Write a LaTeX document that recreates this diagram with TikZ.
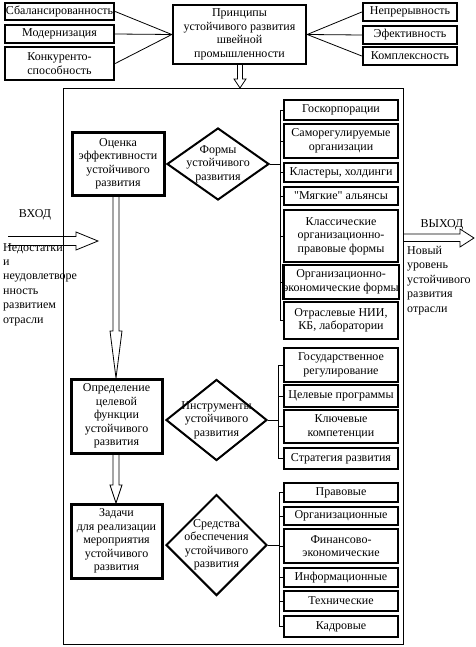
\documentclass[tikz,border=0pt]{standalone}
\usepackage{fontspec}
\setmainfont{Liberation Serif}
\usetikzlibrary{shapes.geometric}
\newcommand\mylbox[4]{\node[tbox, minimum width=114pt, minimum height={(#3-#2)*1pt}] (#1) at (341,{(#2+#3)/2}) {#4};}
\newcommand\sq{\XeTeXglyph\XeTeXcharglyph"22\relax}
\begin{document}
\begin{tikzpicture}[x=1pt,y=-1pt,
  every node/.style={font=\fontsize{12}{13.5}\selectfont},
  tbox/.style={draw, line width=2.4pt, align=center, inner sep=0pt},
  mbox/.style={draw, line width=3pt, align=center, inner sep=0pt},
  dia/.style={draw, diamond, line width=2pt, inner sep=0pt},
  conn/.style={line width=0.8pt},
  hol/.style={line width=0.8pt, line join=miter},
  side/.style={align=left, anchor=north west, inner sep=0pt, font=\fontsize{12}{14.4}\selectfont}]
\useasboundingbox (0,0) rectangle (475,647);

% top row
\node[tbox, minimum width=109pt, minimum height=17pt] (s1) at (59.5,11.5) {Сбалансированность};
\node[tbox, minimum width=109pt, minimum height=18pt] (s2) at (59.5,34) {Модернизация};
\node[tbox, minimum width=109pt, minimum height=33pt] (s3) at (59.5,63.5) {Конкуренто-\\способность};
\node[tbox, minimum width=133pt, minimum height=59pt] (p) at (239.5,34.5) {Принципы\\устойчивого развития\\швейной\\промышленности};
\node[tbox, minimum width=94pt, minimum height=18pt] (r1) at (410,12) {Непрерывность};
\node[tbox, minimum width=94pt, minimum height=18pt] (r2) at (410,35) {Эфективность};
\node[tbox, minimum width=94pt, minimum height=18pt] (r3) at (410,56) {Комплексность};
\foreach \n in {s1,s2,s3} \draw[conn] (\n.east) -- (p.west);
\foreach \n in {r1,r2,r3} \draw[conn] (p.east) -- (\n.west);

% frame
\node[draw, line width=0.8pt, inner sep=0pt, minimum width=340pt, minimum height=556pt] (frame) at (233,366) {};

% arrow from principles to frame
\draw[hol] (237.5,64) -- (237.5,79) -- (234,79) -- (240,88) -- (246,79) -- (242.5,79) -- (242.5,64);

% main boxes
\node[mbox, minimum width=92pt, minimum height=62pt] (a1) at (118,164) {Оценка\\эффективности\\устойчивого\\развития};
\node[mbox, minimum width=91pt, minimum height=74pt] (a2) at (116.5,416) {Определение\\целевой\\функции\\устойчивого\\развития};
\node[mbox, minimum width=91pt, minimum height=74pt] (a3) at (116.5,541) {Задачи\\для реализации\\мероприятия\\устойчивого\\развития};

% vertical hollow arrows
\draw[hol] (113,195) -- (113,331) -- (110,331) -- (116,378) -- (122,331) -- (119,331) -- (119,195);
\draw[hol] (113,453) -- (113,485) -- (110,485) -- (116,503) -- (122,485) -- (119,485) -- (119,453);

% diamonds
\node[dia, minimum width=102pt, minimum height=72pt] (d1) at (218,164) {};
\node[align=center] (d1t) at (d1) {Формы\\устойчивого\\развития};
\node[dia, minimum width=101pt, minimum height=81pt] (d2) at (216.5,420) {};
\node[align=center] (d2t) at (d2) {Инструменты\\устойчивого\\развития};
\node[dia, minimum width=101pt, minimum height=101pt] (d3) at (216.5,545) {};
\node[align=center] (d3t) at (d3) {Средства\\обеспечения\\устойчивого\\развития};

% list 1
\mylbox{g1}{100}{120}{Госкорпорации}
\mylbox{g2}{124}{158}{Саморегулируемые\\организации}
\mylbox{g3}{163}{182}{Кластеры, холдинги}
\mylbox{g4}{187}{205}{\sq Мягкие\sq{} альянсы}
\mylbox{g5}{210}{262}{Классические\\организационно-\\правовые формы}
\mylbox{g6}{265}{299}{Организационно-\\экономические формы}
\mylbox{g7}{302}{339}{Отраслевые НИИ,\\КБ, лаборатории}
\coordinate (br1) at (280,164);
\draw[conn] (d1.east) -- (br1);
\foreach \n in {g1,g2,g3,g4,g5,g6,g7} \draw[conn] (\n.west) -- (\n.west -| br1);
\draw[conn] (g1.west -| br1) -- (g7.west -| br1);

% list 2
\mylbox{h1}{348}{382}{Государственное\\регулирование}
\mylbox{h2}{385}{407}{Целевые программы}
\mylbox{h3}{410}{443}{Ключевые\\компетенции}
\mylbox{h4}{448}{469}{Стратегия развития}
\coordinate (br2) at (278,420);
\draw[conn] (d2.east) -- (br2);
\foreach \n in {h1,h2,h3,h4} \draw[conn] (\n.west) -- (\n.west -| br2);
\draw[conn] (h1.west -| br2) -- (h4.west -| br2);

% list 3
\mylbox{k1}{483}{502}{Правовые}
\mylbox{k2}{507}{525}{Организационные}
\mylbox{k3}{529}{563}{Финансово-\\экономические}
\mylbox{k4}{568}{587}{Информационные}
\mylbox{k5}{591}{611}{Технические}
\mylbox{k6}{616}{637}{Кадровые}
\coordinate (br3) at (279,545);
\draw[conn] (d3.east) -- (br3);
\foreach \n in {k1,k2,k3,k4,k5,k6} \draw[conn] (\n.west) -- (\n.west -| br3);
\draw[conn] (k1.west -| br3) -- (k6.west -| br3);

% input
\draw[hol] (8,236.5) -- (76,236.5) -- (76,232) -- (98,241) -- (76,250) -- (76,245.5) -- (8,245.5);
\node (vhod) at (35,215) {ВХОД};
\node[side] (ned) at (3,243) {Недостатки\\и\\неудовлетворе\\нность\\развитием\\отрасли};

% output
\draw[hol] (403,234) -- (460,234) -- (460,229) -- (474,238) -- (460,247) -- (460,241.5) -- (403,241.5);
\node (vyhod) at (442,225) {ВЫХОД};
\node[side] (novy) at (407,246) {Новый\\уровень\\устойчивого\\развития\\отрасли};
\end{tikzpicture}
\end{document}
